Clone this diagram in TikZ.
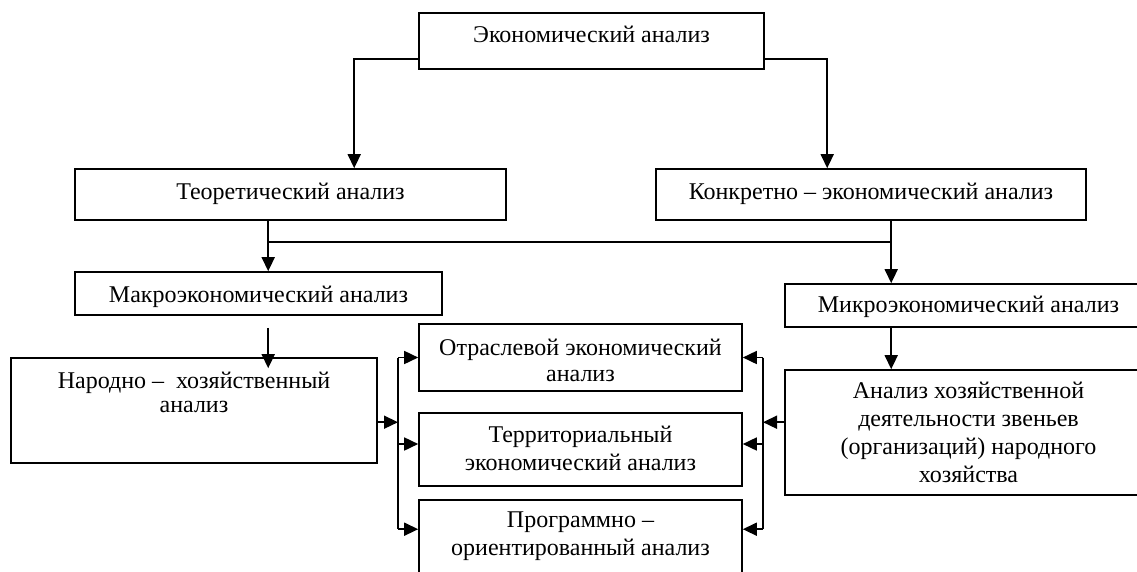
\documentclass[tikz,border=0pt]{standalone}
\usepackage{fontspec}
\setmainfont{Liberation Serif}
\usetikzlibrary{arrows.meta,calc}
\tikzset{
  box/.style={draw=black, line width=1.6pt, inner sep=0pt, rectangle},
  txt/.style={inner sep=0pt, anchor=base, font=\fontsize{24}{28}\selectfont},
  conn/.style={draw=black, line width=1.6pt},
  arr/.style={conn, -{Triangle[length=14pt,width=13pt]}}
}
\newcommand{\mlines}[1]{\begin{tabular}[t]{@{}c@{}}#1\end{tabular}}
\begin{document}
\begin{tikzpicture}[x=1pt,y=-1pt]
\useasboundingbox (0,0) rectangle (1137,571);
\clip (0,0) rectangle (1137,571);
% boxes
\node[box, minimum width=345pt, minimum height=56pt] (top) at (591.5,41) {};
\node[box, minimum width=431pt, minimum height=51pt] (theo) at (290.5,194.5) {};
\node[box, minimum width=430pt, minimum height=51pt] (konk) at (871,194.5) {};
\node[box, minimum width=367pt, minimum height=43pt] (makro) at (258.5,293.5) {};
\node[box, minimum width=367pt, minimum height=43pt] (mikro) at (968.5,305.5) {};
\node[box, minimum width=366pt, minimum height=105pt] (narod) at (194,410.5) {};
\node[box, minimum width=323pt, minimum height=67pt] (otr) at (580.5,357.5) {};
\node[box, minimum width=323pt, minimum height=73pt] (terr) at (580.5,449.5) {};
\node[box, minimum width=323pt, minimum height=90pt] (prog) at (580.5,545) {};
\node[box, minimum width=367pt, minimum height=125pt] (anal) at (968.5,432.5) {};
% texts
\node[txt] (topT) at ($(top.north)+(0,30)$) {Экономический анализ};
\node[txt] (theoT) at ($(theo.north)+(0,31)$) {Теоретический анализ};
\node[txt] (konkT) at ($(konk.north)+(0,31)$) {Конкретно – экономический анализ};
\node[txt] (makroT) at ($(makro.north)+(0,31)$) {Макроэкономический анализ};
\node[txt] (mikroT) at ($(mikro.north)+(0,29)$) {Микроэкономический анализ};
\node[txt] (narodT) at ($(narod.north)+(0,31)$) {\mlines{Народно –\ \ хозяйственный\\[-4pt] анализ}};
\node[txt] (otrT) at ($(otr.north)+(0,32)$) {\mlines{Отраслевой экономический\\[-2pt] анализ}};
\node[txt] (terrT) at ($(terr.north)+(0,30)$) {\mlines{Территориальный\\ экономический анализ}};
\node[txt] (progT) at ($(prog.north)+(0,28)$) {\mlines{Программно –\\ ориентированный анализ}};
\node[txt] (analT) at ($(anal.north)+(0,29)$) {\mlines{Анализ хозяйственной\\ деятельности звеньев\\ (организаций) народного\\ хозяйства}};
% top connectors
\draw[arr] ($(top.south west)+(0,-11)$) -| ($(theo.north west)+(280,0)$);
\draw[arr] ($(top.south east)+(0,-11)$) -| ($(konk.north west)+(172,0)$);
% second level
\draw[arr] ($(theo.south west)+(194,0)$) -- ($(makro.north west)+(194,0)$);
\draw[arr] ($(konk.south west)+(236,0)$) -- ($(mikro.north west)+(107,0)$);
\draw[conn] ($(theo.south west)+(194,21)$) -- ($(konk.south west)+(236,21)$);
% third level
\draw[arr] ($(makro.south west)+(194,12)$) -- ($(narod.north west)+(258,11)$);
\draw[arr] ($(mikro.south west)+(107,0)$) -- ($(anal.north west)+(107,0)$);
% brackets
\coordinate (lx) at (398,0);
\coordinate (rx) at (763,0);
\coordinate (otrL) at (otr.west);
\coordinate (terrL) at ($(terr.west)+(0,-5.5)$);
\coordinate (progL) at ($(prog.north west)+(0,30)$);
\coordinate (otrR) at (otr.east);
\coordinate (terrR) at ($(terr.east)+(0,-5.5)$);
\coordinate (progR) at ($(prog.north east)+(0,30)$);
\coordinate (narR) at ($(narod.north east)+(0,65)$);
\coordinate (anL) at ($(anal.north west)+(0,53)$);
\draw[conn] (lx |- otrL) -- (lx |- progL);
\draw[conn] (rx |- otrR) -- (rx |- progR);
\draw[arr] (narR) -- (lx |- narR);
\draw[arr] (anL) -- (rx |- anL);
\draw[arr] (lx |- otrL) -- (otrL);
\draw[arr] (lx |- terrL) -- (terrL);
\draw[arr] (lx |- progL) -- (progL);
\draw[arr] (rx |- otrR) -- (otrR);
\draw[arr] (rx |- terrR) -- (terrR);
\draw[arr] (rx |- progR) -- (progR);
\end{tikzpicture}
\end{document}
